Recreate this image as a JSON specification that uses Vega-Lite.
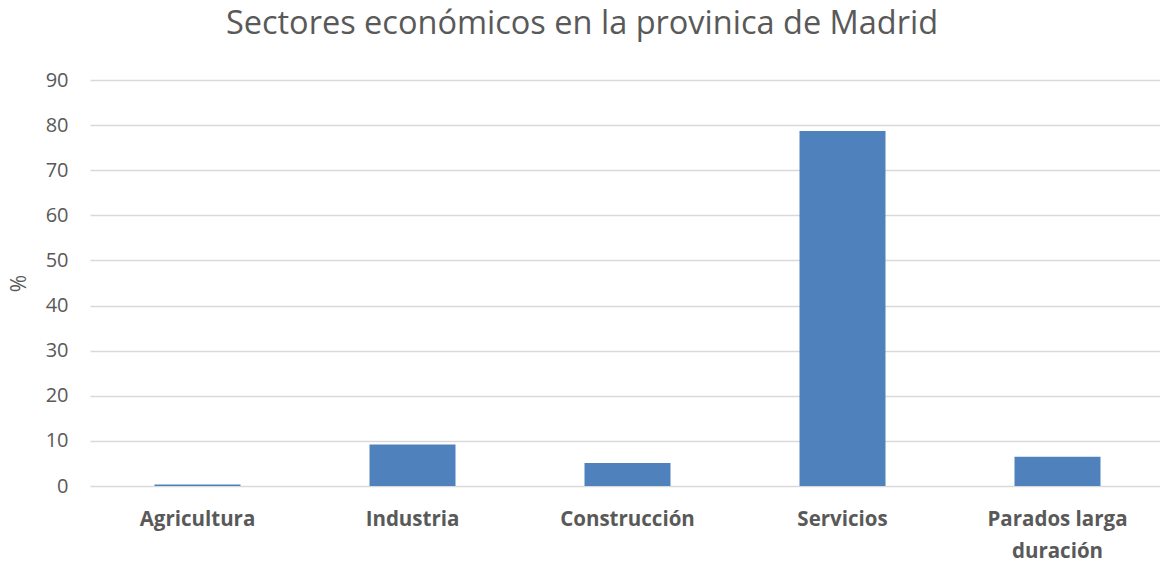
{
  "$schema": "https://vega.github.io/schema/vega-lite/v6.json",
  "autosize": {"type": "none"},
  "width": 1070,
  "height": 406,
  "padding": {"left": 90, "top": 80, "right": 0, "bottom": 78},
  "background": "white",
  "title": {
    "text": "Sectores económicos en la provinica de Madrid",
    "font": "Open Sans",
    "fontSize": 32.5,
    "fontWeight": "normal",
    "color": "#595959",
    "anchor": "middle",
    "dx": -43,
    "offset": 30
  },
  "data": {
    "values": [
      {"sector": "Agricultura", "pct": 0.35},
      {"sector": "Industria", "pct": 9.2},
      {"sector": "Construcción", "pct": 5.1},
      {"sector": "Servicios", "pct": 78.7},
      {"sector": "Parados larga duración", "pct": 6.5}
    ]
  },
  "mark": {"type": "bar", "color": "#4F81BD"},
  "encoding": {
    "x": {
      "field": "sector",
      "type": "nominal",
      "sort": null,
      "scale": {"range": [0, 1075], "paddingInner": 0.6, "paddingOuter": 0.3},
      "axis": {
        "title": null,
        "domain": false,
        "ticks": false,
        "labelAngle": 0,
        "labelFont": "Open Sans",
        "labelFontSize": 20.5,
        "labelFontWeight": "bold",
        "labelColor": "#595959",
        "labelPadding": 23,
        "labelLineHeight": 32,
        "labelExpr": "datum.label == 'Parados larga duración' ? ['Parados larga', 'duración'] : datum.label"
      }
    },
    "y": {
      "field": "pct",
      "type": "quantitative",
      "scale": {"domain": [0, 90], "nice": false},
      "axis": {
        "title": "%",
        "titleFont": "Open Sans",
        "titleFontSize": 21,
        "titleFontWeight": "normal",
        "titleColor": "#595959",
        "titlePadding": 16,
        "values": [0, 10, 20, 30, 40, 50, 60, 70, 80, 90],
        "domain": false,
        "ticks": false,
        "grid": true,
        "gridColor": "#D9D9D9",
        "gridWidth": 1.3,
        "labelFont": "Open Sans",
        "labelFontSize": 20,
        "labelColor": "#595959",
        "labelPadding": 22
      }
    }
  },
  "config": {"view": {"stroke": null}}
}
